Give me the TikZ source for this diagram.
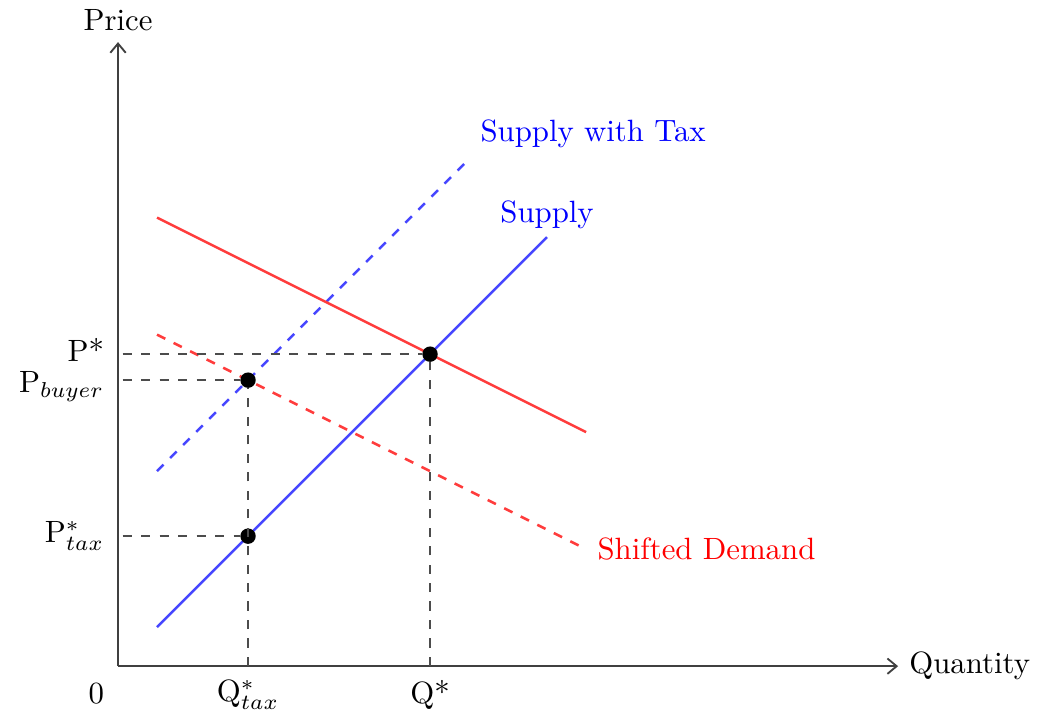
\documentclass[tikz,border=0pt]{standalone}
\usetikzlibrary{arrows.meta}
\definecolor{lineblue}{RGB}{70,70,255}
\definecolor{linered}{RGB}{255,60,60}
\begin{document}
\begin{tikzpicture}[x=0.445cm,y=0.445cm,
  axis/.style={semithick,black!75,-{Straight Barb[length=3pt,width=5pt]}},
  guide/.style={dashed,black!70,semithick},
  supplyline/.style={lineblue,thick},
  demandline/.style={linered,thick},
  dot/.style={circle,fill=black,inner sep=0pt,minimum size=5pt}]
\useasboundingbox (-3.026,-1.308) rectangle (23.92,17.08);
% coordinates
\coordinate (O) at (0,0);
\coordinate (xend) at (20,0);
\coordinate (yend) at (0,16);
\coordinate (s1) at (1,1);
\coordinate (s2) at (11,11);
\coordinate (t1) at (1,5);
\coordinate (t2) at (9,13);
\coordinate (d1) at (1,11.5);
\coordinate (d2) at (12,6);
\coordinate (e1) at (1,8.5);
\coordinate (e2) at (12,3);
\coordinate (ax8) at (0.12,8);
\coordinate (axb) at (0.12,7.3333);
\coordinate (axt) at (0.12,3.3333);
\coordinate (qs) at (8,0);
\coordinate (qt) at (3.3333,0);
% axes
\draw[axis] (O) -- (xend) node[right,black] (qlab) {Quantity};
\draw[axis] (O) -- (yend) node[above,black] (plab) {Price};
% curves
\draw[supplyline] (s1) -- (s2) node[above,blue,yshift=-1pt] (slab) {Supply};
\draw[supplyline,dashed] (t1) -- (t2) node[above right,blue] (tlab) {Supply with Tax};
\draw[demandline] (d1) -- (d2);
\draw[demandline,dashed] (e1) -- (e2) node[right,red] (elab) {Shifted Demand};
% points
\node[dot] (eq) at (8,8) {};
\node[dot] (buy) at (3.3333,7.3333) {};
\node[dot] (tax) at (3.3333,3.3333) {};
% guides
\draw[guide] (ax8) -- (eq);
\draw[guide] (axb) -- (buy);
\draw[guide] (axt) -- (tax);
\draw[guide] (qs) -- (eq);
\draw[guide] (qt) -- (buy);
% labels
\node[below left,xshift=-1pt,yshift=-2pt] (zero) at (O) {0};
\node[below,yshift=-1pt] (qslab) at (qs) {Q*};
\node[below,yshift=-1pt] (qtlab) at (qt) {Q$^*_{tax}$};
\node[left,xshift=-1pt,yshift=1.5pt] (pslab) at (0,8) {P*};
\node[left,xshift=-1pt,yshift=-2pt] (pblab) at (0,7.3333) {P$_{buyer}$};
\node[left,xshift=-1pt] (ptlab) at (0,3.3333) {P$^*_{tax}$};
\end{tikzpicture}
\end{document}
